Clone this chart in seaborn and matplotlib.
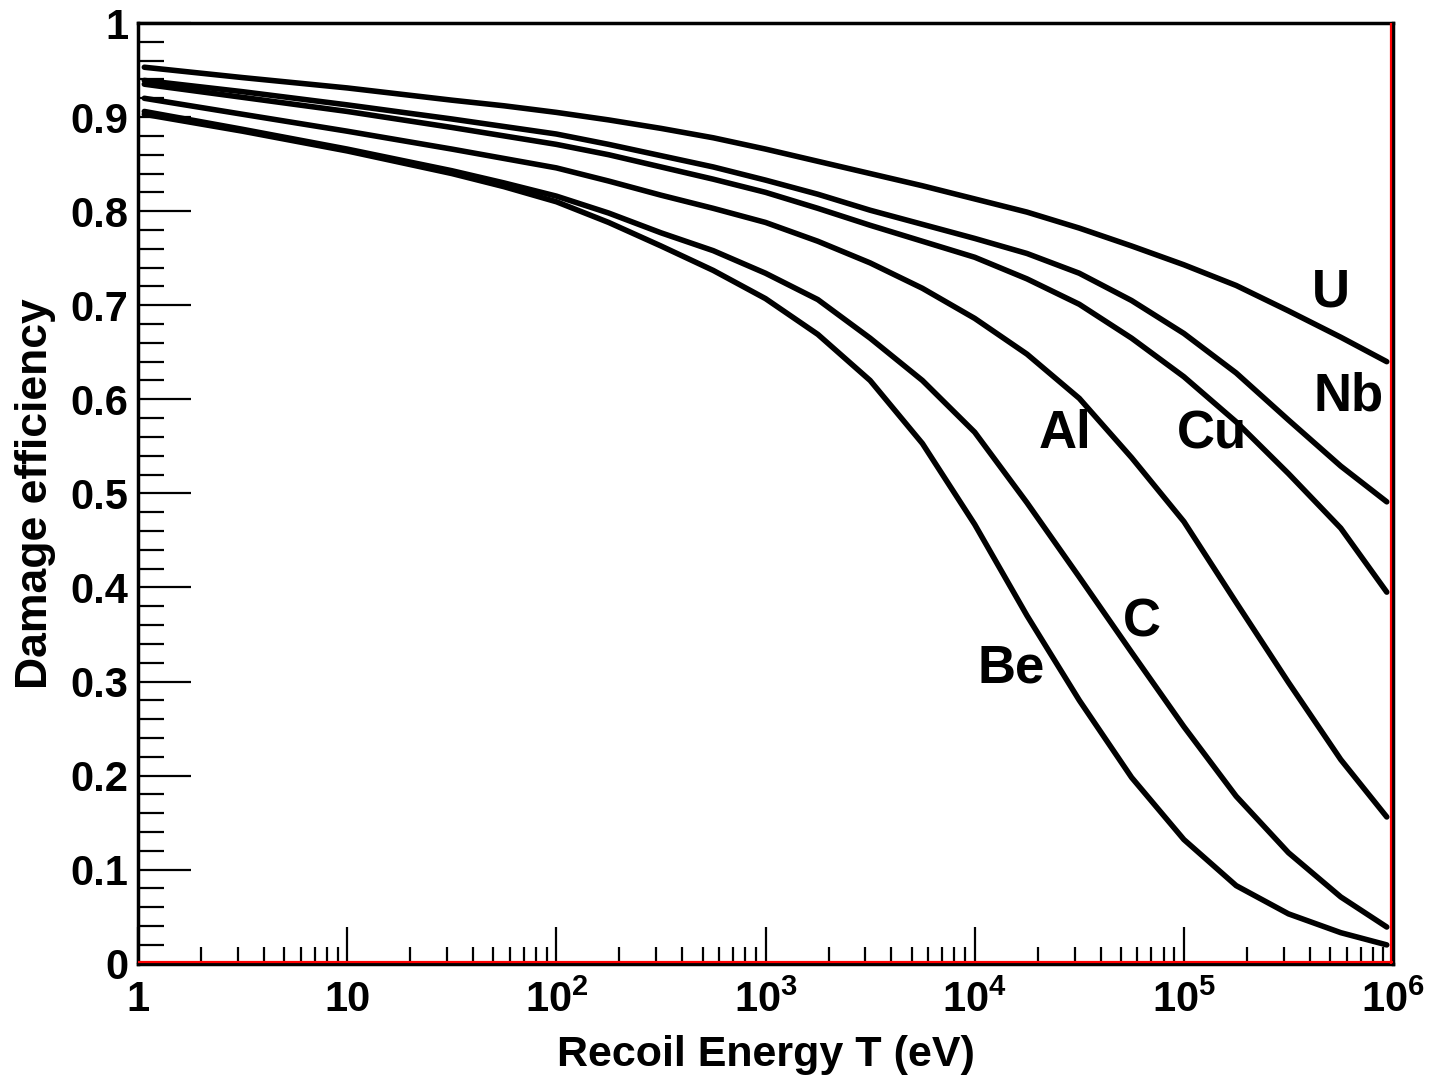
import numpy as np
import pandas as pd
import matplotlib
matplotlib.use('Agg')
import matplotlib.pyplot as plt
import seaborn as sns
from matplotlib.ticker import FixedLocator, FixedFormatter, LogLocator, NullFormatter, MultipleLocator

log_energy = [0.03, 0.5, 1.0, 1.5, 1.75, 2.0, 2.25, 2.5, 2.75, 3.0, 3.25, 3.5, 3.75,
              4.0, 4.25, 4.5, 4.75, 5.0, 5.25, 5.5, 5.75, 5.97]

# damage efficiency per element
eff_U  = [0.953, 0.942, 0.931, 0.918, 0.912, 0.905, 0.897, 0.888, 0.878, 0.866, 0.853, 0.840, 0.827,
          0.813, 0.799, 0.782, 0.763, 0.743, 0.721, 0.694, 0.666, 0.640]
eff_Nb = [0.939, 0.927, 0.913, 0.898, 0.890, 0.882, 0.871, 0.859, 0.847, 0.833, 0.818, 0.801, 0.786,
          0.771, 0.755, 0.734, 0.705, 0.670, 0.628, 0.578, 0.529, 0.491]
eff_Cu = [0.935, 0.921, 0.906, 0.889, 0.880, 0.871, 0.860, 0.847, 0.834, 0.820, 0.803, 0.785, 0.768,
          0.751, 0.728, 0.701, 0.665, 0.624, 0.576, 0.521, 0.463, 0.395]
eff_Al = [0.920, 0.903, 0.885, 0.866, 0.856, 0.846, 0.832, 0.817, 0.803, 0.788, 0.768, 0.745, 0.718,
          0.686, 0.648, 0.601, 0.538, 0.470, 0.384, 0.299, 0.217, 0.156]
eff_C  = [0.906, 0.887, 0.866, 0.843, 0.830, 0.816, 0.798, 0.777, 0.758, 0.734, 0.706, 0.665, 0.620,
          0.565, 0.490, 0.411, 0.331, 0.252, 0.178, 0.118, 0.071, 0.039]
eff_Be = [0.903, 0.885, 0.864, 0.840, 0.826, 0.810, 0.788, 0.763, 0.737, 0.707, 0.669, 0.620, 0.553,
          0.467, 0.370, 0.280, 0.198, 0.132, 0.083, 0.053, 0.033, 0.020]

elements = ['U', 'Nb', 'Cu', 'Al', 'C', 'Be']
series = [eff_U, eff_Nb, eff_Cu, eff_Al, eff_C, eff_Be]

# label spots (log10 energy, efficiency at text baseline)
label_x = [5.703, 5.785, 5.134, 4.431, 4.799, 4.172]
label_y = [0.699, 0.588, 0.548, 0.548, 0.348, 0.299]

x_tick_labels = ['1', '10', r'$\mathbf{10^{2}}$', r'$\mathbf{10^{3}}$', r'$\mathbf{10^{4}}$',
                 r'$\mathbf{10^{5}}$', r'$\mathbf{10^{6}}$']
y_tick_labels = ['0', '0.1', '0.2', '0.3', '0.4', '0.5', '0.6', '0.7', '0.8', '0.9', '1']

rows = []
for name, vals in zip(elements, series):
    for lx, v in zip(log_energy, vals):
        rows.append({'element': name, 'energy': 10 ** lx, 'eff': v})
df = pd.DataFrame(rows)

sns.set_style('ticks')
plt.rcParams['font.family'] = ['Liberation Sans', 'DejaVu Sans']
plt.rcParams['font.weight'] = 'bold'
plt.rcParams['text.color'] = 'black'
plt.rcParams['axes.labelcolor'] = 'black'
plt.rcParams['xtick.color'] = 'black'
plt.rcParams['ytick.color'] = 'black'
plt.rcParams['mathtext.fontset'] = 'custom'
plt.rcParams['mathtext.bf'] = 'Liberation Sans:bold'
plt.rcParams['mathtext.rm'] = 'Liberation Sans:bold'

fig = plt.figure(figsize=(14.32, 10.81), dpi=100)
ax = fig.add_axes([0.0964, 0.1085, 0.8764, 0.8702])

for name in elements:
    sns.lineplot(data=df[df['element'] == name], x='energy', y='eff', color='black',
                 linewidth=4.0, ax=ax, estimator=None, sort=False, solid_joinstyle='round')

ax.set_xscale('log')
ax.set_xlim(1, 1e6)
ax.set_ylim(0, 1)

# red frame lines on bottom and right like the original
ax.axhline(0.0015, color='red', linewidth=1.6, zorder=5)
ax.axvline(10 ** 5.989, color='red', linewidth=1.6, zorder=5)

for sp in ax.spines.values():
    sp.set_visible(True)
    sp.set_color('black')
    sp.set_linewidth(2.5)

ax.xaxis.set_major_locator(FixedLocator([10 ** i for i in range(7)]))
ax.xaxis.set_major_formatter(FixedFormatter(x_tick_labels))
ax.xaxis.set_minor_locator(LogLocator(base=10, subs=np.arange(2, 10), numticks=20))
ax.xaxis.set_minor_formatter(NullFormatter())
ax.yaxis.set_major_locator(FixedLocator(np.arange(0, 1.01, 0.1)))
ax.yaxis.set_major_formatter(FixedFormatter(y_tick_labels))
ax.yaxis.set_minor_locator(MultipleLocator(0.02))

ax.tick_params(bottom=True, left=True, top=False, right=False, which='both', colors='black')
ax.tick_params(axis='x', which='major', direction='in', length=27, width=1.6, labelsize=30, pad=12)
ax.tick_params(axis='x', which='minor', direction='in', length=12, width=1.6)
ax.tick_params(axis='y', which='major', direction='in', length=38, width=1.6, labelsize=30, pad=7)
ax.tick_params(axis='y', which='minor', direction='in', length=19, width=1.6)

ax.set_xlabel('Recoil Energy T (eV)', fontsize=31, fontweight='bold', labelpad=10)
ax.set_ylabel('Damage efficiency', fontsize=32, fontweight='bold', labelpad=10)

for name, lx, ly in zip(elements, label_x, label_y):
    ax.text(10 ** lx, ly, name, fontsize=38, fontweight='bold', ha='center', va='baseline')

plt.savefig('out.png', dpi=100)
